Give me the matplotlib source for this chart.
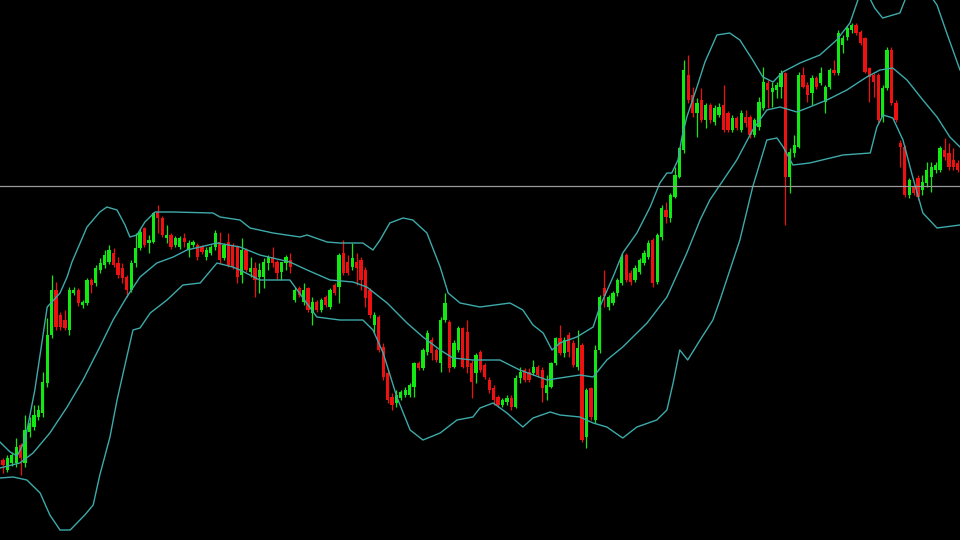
import matplotlib
matplotlib.use("Agg")
import matplotlib.pyplot as plt
import numpy as np

# OHLC, one candle per entry (price units = pixels from bottom)
opens = [80, 70, 77, 77, 95, 77, 108, 113, 123, 127, 157, 205, 250, 225, 220, 210, 247, 250, 235, 237, 260, 257, 270, 275, 278, 287, 277,
         272, 263, 250, 277, 292, 312, 297, 298, 328, 322, 302, 305, 295, 293, 302, 290, 295, 295, 293, 283, 287, 293, 298, 282, 298, 295, 293,
         265, 290, 268, 272, 263, 263, 277, 283, 278, 268, 277, 280, 240, 252, 238, 252, 227, 238, 230, 243, 233, 255, 253, 287, 278, 273, 278,
         280, 270, 250, 215, 223, 193, 167, 143, 137, 142, 145, 145, 153, 177, 172, 188, 200, 190, 177, 220, 218, 173, 190, 212, 208, 177, 167,
         188, 175, 160, 152, 143, 135, 138, 142, 133, 162, 170, 168, 167, 173, 170, 147, 153, 177, 202, 187, 205, 197, 173, 195, 103, 152, 120, 190,
         252, 233, 237, 247, 257, 285, 267, 260, 268, 277, 283, 300, 258, 303, 330, 322, 343, 363, 390, 465, 445, 427, 440, 420, 435, 418, 425,
         435, 427, 410, 422, 410, 423, 423, 405, 413, 432, 457, 448, 450, 453, 467, 363, 387, 393, 465, 455, 447, 462, 457, 438, 453, 470, 467,
         495, 503, 510, 515, 508, 502, 472, 465, 465, 423, 452, 490, 437, 397, 393, 345, 353, 362, 350, 357, 363, 370, 370, 390, 387, 380, 377]
highs = [82, 85, 88, 102, 97, 125, 123, 135, 135, 168, 222, 265, 258, 228, 230, 253, 253, 252, 240, 262, 262, 275, 282, 290, 295, 292, 283,
         277, 265, 280, 307, 312, 313, 305, 328, 335, 324, 315, 307, 304, 304, 307, 300, 300, 297, 295, 293, 295, 310, 308, 297, 307, 297, 295,
         302, 292, 283, 278, 277, 282, 285, 293, 280, 278, 285, 287, 253, 254, 257, 253, 243, 240, 242, 245, 252, 257, 287, 300, 285, 297, 287,
         283, 273, 252, 228, 225, 197, 170, 147, 150, 150, 153, 157, 178, 179, 192, 210, 203, 192, 223, 247, 220, 200, 214, 213, 220, 180, 187,
         190, 177, 163, 155, 145, 142, 145, 145, 165, 173, 172, 172, 180, 175, 173, 165, 178, 203, 215, 203, 208, 200, 210, 197, 152, 153, 195, 245,
         270, 245, 249, 262, 287, 287, 270, 275, 282, 290, 300, 302, 307, 335, 338, 347, 373, 393, 480, 485, 453, 442, 452, 437, 437, 435, 437,
         455, 429, 425, 424, 430, 430, 425, 422, 443, 473, 460, 458, 458, 470, 468, 392, 405, 468, 473, 458, 465, 464, 473, 455, 472, 480, 510,
         505, 514, 517, 517, 510, 503, 473, 467, 467, 455, 493, 493, 440, 400, 395, 362, 355, 365, 365, 378, 378, 378, 394, 402, 397, 392, 380]
lows = [67, 68, 74, 73, 65, 73, 103, 110, 120, 123, 153, 202, 210, 210, 210, 205, 245, 234, 232, 235, 247, 254, 267, 272, 276, 273, 262,
        257, 243, 248, 273, 290, 293, 287, 297, 307, 303, 297, 291, 293, 291, 293, 283, 293, 280, 286, 280, 285, 290, 277, 280, 273, 271, 257,
        257, 268, 263, 243, 247, 252, 270, 273, 260, 260, 270, 267, 238, 243, 235, 228, 215, 228, 228, 233, 231, 245, 237, 265, 265, 270, 255,
        250, 233, 222, 207, 188, 160, 137, 130, 133, 140, 143, 143, 143, 170, 170, 185, 180, 178, 168, 218, 168, 172, 188, 172, 167, 142, 157,
        168, 161, 147, 135, 133, 133, 135, 130, 132, 157, 158, 158, 165, 163, 138, 140, 152, 175, 185, 183, 183, 173, 170, 98, 92, 120, 117, 187,
        233, 230, 235, 244, 255, 258, 255, 258, 266, 275, 281, 253, 256, 300, 317, 318, 342, 362, 387, 437, 423, 403, 418, 412, 417, 415, 423,
        408, 408, 408, 410, 408, 413, 402, 403, 410, 430, 432, 433, 442, 442, 315, 347, 383, 392, 452, 438, 435, 451, 455, 427, 451, 465, 465,
        487, 500, 507, 505, 495, 467, 438, 443, 418, 418, 450, 435, 418, 373, 343, 342, 345, 340, 345, 353, 348, 367, 368, 380, 370, 370, 368]
closes = [75, 82, 85, 93, 82, 110, 117, 125, 130, 158, 205, 250, 213, 213, 212, 250, 250, 237, 238, 260, 255, 272, 277, 285, 290, 275, 265,
          262, 250, 277, 292, 308, 295, 300, 327, 322, 305, 305, 293, 302, 302, 298, 297, 298, 283, 288, 290, 293, 307, 280, 295, 275, 273, 263,
          290, 270, 272, 260, 270, 278, 283, 277, 267, 278, 283, 273, 250, 245, 250, 230, 238, 230, 240, 235, 250, 247, 285, 267, 267, 282, 272,
          260, 242, 225, 225, 190, 163, 140, 135, 145, 148, 150, 155, 177, 172, 190, 207, 187, 180, 220, 237, 172, 197, 212, 173, 173, 158, 185,
          170, 163, 150, 140, 135, 140, 142, 133, 162, 168, 160, 160, 173, 165, 152, 155, 177, 202, 187, 200, 188, 175, 192, 100, 150, 123, 190, 243,
          244, 243, 247, 260, 283, 260, 258, 272, 280, 287, 297, 257, 305, 332, 323, 345, 365, 392, 470, 440, 427, 437, 420, 435, 420, 432, 433,
          410, 410, 422, 412, 427, 417, 405, 420, 438, 458, 450, 452, 455, 467, 363, 388, 395, 465, 453, 445, 462, 453, 467, 453, 470, 467, 507,
          502, 512, 515, 507, 497, 468, 463, 458, 420, 452, 490, 437, 420, 393, 345, 360, 347, 343, 358, 370, 373, 375, 392, 383, 373, 373, 370]

# Bollinger bands, sampled along the chart (x in candle index)
upper_t = [-0.7, 1.6, 3.2, 5.0, 7.2, 10.0, 12.9, 14.5, 15.6, 19.0, 21.9, 23.5, 25.8, 27.6, 28.7, 30.3, 32.1, 34.4, 38.5, 47.5,
           49.1, 53.6, 55.9, 61.1, 67.2, 68.8, 73.3, 76.2, 81.4, 83.7, 85.3, 87.5, 90.5, 92.7, 95.9, 98.9, 100.7, 103.4, 107.9, 114.7,
           117.6, 119.9, 122.2, 124.2, 126.0, 129.8, 133.5, 135.0, 138.0, 140.2, 143.4, 146.4, 148.6, 150.2, 151.3, 152.7, 153.6, 154.7,
           157.0, 158.8, 161.5, 164.4, 166.7, 169.6, 171.9, 174.2, 176.4, 180.3, 184.8, 188.6, 191.6, 193.8, 195.7, 197.2, 199.0, 202.9,
           204.5, 209.7, 211.3, 213.5, 216.5]
upper_v = [98, 88, 84, 100, 150, 233, 247, 263, 278, 313, 328, 333, 330, 315, 303, 305, 318, 328, 328, 327,
           323, 320, 312, 307, 303, 305, 298, 297, 297, 290, 300, 317, 322, 320, 307, 273, 247, 237, 233, 237,
           230, 215, 207, 190, 197, 203, 213, 233, 263, 287, 307, 333, 357, 367, 367, 380, 403, 423,
           453, 478, 505, 507, 500, 480, 463, 458, 468, 477, 485, 500, 517, 545, 545, 532, 522, 527,
           545, 545, 535, 507, 470]
mid_t = [-0.7, 3.8, 6.8, 10.6, 14.5, 18.1, 21.9, 24.9, 28.0, 31.0, 34.8, 38.5, 41.6, 44.6, 48.4, 53.6, 58.1, 64.9, 68.8, 74.0,
         79.2, 82.3, 86.9, 91.4, 95.0, 98.9, 101.8, 106.3, 112.4, 116.9, 123.1, 126.0, 130.5, 133.5, 136.6, 140.2, 145.7, 150.2,
         154.7, 157.7, 159.9, 166.0, 169.6, 172.8, 175.8, 179.6, 182.5, 186.4, 190.9, 195.4, 198.4, 201.3, 204.5, 208.1, 211.3,
         214.2, 216.5]
mid_v = [72, 77, 87, 107, 133, 160, 193, 220, 243, 263, 277, 283, 290, 293, 297, 293, 285, 278, 270, 260,
         258, 253, 237, 217, 203, 190, 182, 180, 180, 170, 160, 162, 165, 163, 180, 193, 217, 243,
         287, 320, 340, 380, 410, 430, 433, 428, 433, 440, 450, 463, 470, 472, 460, 440, 423,
         403, 393]
low_t = [-0.7, 2.3, 5.4, 8.4, 10.6, 12.9, 15.2, 18.5, 20.4, 21.9, 24.2, 25.8, 28.0, 29.4, 31.0, 33.3, 37.1, 40.7, 44.6, 48.4,
         52.0, 53.6, 58.1, 64.9, 71.0, 76.2, 81.4, 83.7, 86.0, 89.1, 92.1, 95.0, 98.9, 102.7, 106.3, 107.9, 110.9, 114.0, 117.6,
         119.9, 123.8, 126.0, 130.5, 133.5, 136.6, 140.2, 143.4, 147.9, 150.2, 151.6, 153.1, 154.9, 157.7, 160.6, 162.2, 166.7,
         169.6, 172.8, 175.1, 176.5, 178.7, 182.5, 190.0, 196.2, 197.7, 199.1, 201.3, 203.6, 205.8, 208.1, 211.3, 216.5]
low_v = [62, 63, 60, 47, 25, 10, 10, 25, 35, 65, 103, 140, 183, 210, 212, 227, 240, 255, 257, 277,
         273, 270, 260, 260, 223, 220, 220, 210, 187, 143, 110, 100, 107, 120, 123, 132, 137, 127, 113,
         122, 128, 125, 123, 117, 113, 102, 113, 120, 130, 157, 190, 180, 200, 220, 240, 300,
         353, 400, 402, 393, 375, 377, 385, 387, 413, 425, 422, 400, 363, 327, 312, 315]

price_line = 354

o = np.array(opens)
h = np.array(highs)
l = np.array(lows)
c = np.array(closes)
x = np.arange(len(o))

green = "#12e812"
red = "#ee1111"
band = "#3eaaaa"
colors = np.where(c >= o, green, red)

fig = plt.figure(figsize=(9.6, 5.4), dpi=100, facecolor="black")
ax = fig.add_axes([0, 0, 1, 1])
ax.set_facecolor("black")

# wicks and bodies
ax.vlines(x, l, h, colors=colors, linewidth=0.9, zorder=2)
body = np.maximum(np.abs(c - o), 1.5)
ax.bar(x, body, bottom=np.minimum(o, c), width=0.74, color=colors, linewidth=0, zorder=2)

# bands
ax.plot(upper_t, upper_v, color=band, linewidth=1.0, zorder=3, solid_joinstyle="round")
ax.plot(mid_t, mid_v, color=band, linewidth=1.0, zorder=3, solid_joinstyle="round")
ax.plot(low_t, low_v, color=band, linewidth=1.0, zorder=3, solid_joinstyle="round")

ax.axhline(price_line, color="#9a9a9a", linewidth=0.9, zorder=4)

ax.set_xlim(-0.68, 216.5)
ax.set_ylim(0, 540)
ax.axis("off")

fig.savefig("out.png", dpi=100, facecolor="black")
